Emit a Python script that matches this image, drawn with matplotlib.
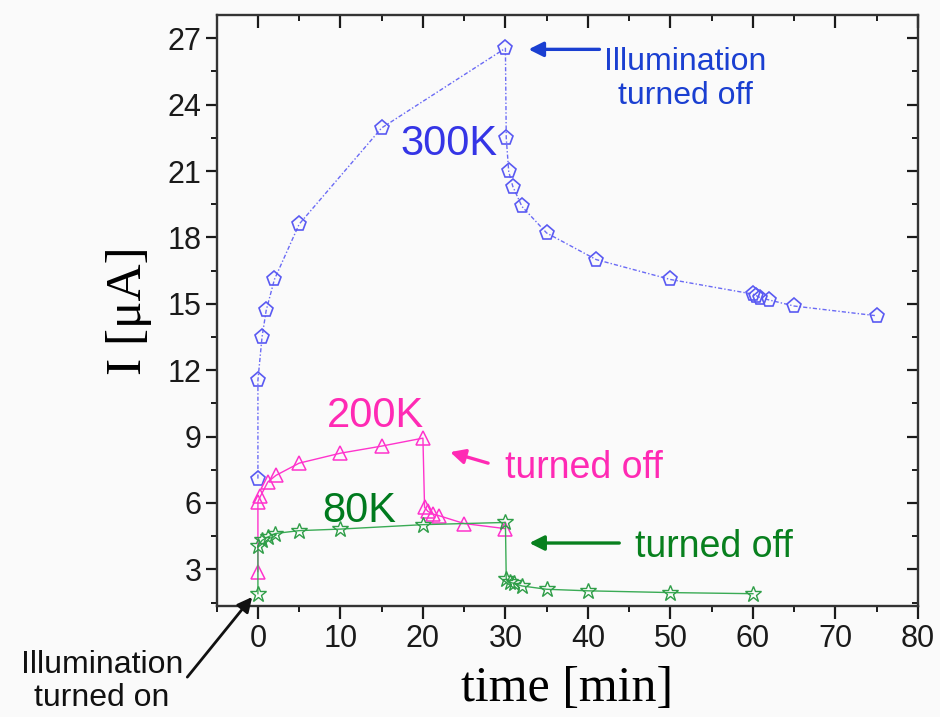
import matplotlib
matplotlib.use('Agg')
import matplotlib.pyplot as plt
from matplotlib.ticker import MultipleLocator

# 300 K
t300 = [0, 0, 0.5, 1, 2, 5, 15, 30, 30.1, 30.4, 30.9, 32, 35, 41, 50, 60, 60.4, 60.9, 62, 65, 75]
i300 = [7.1, 11.55, 13.5, 14.7, 16.1, 18.6, 22.95, 26.55, 22.5, 20.98, 20.3, 19.4, 18.2,
        17.0, 16.1, 15.44, 15.37, 15.28, 15.17, 14.9, 14.46]

# 200 K
t200 = [0, 0, 0.3, 1.2, 2.2, 5, 10, 15, 20, 20.2, 20.6, 21.2, 22, 25, 30]
i200 = [2.9, 6.05, 6.3, 6.95, 7.25, 7.8, 8.25, 8.57, 8.93, 5.8, 5.62, 5.5, 5.42, 5.07, 4.84]

# 80 K
t80 = [0, 0, 0.5, 1.2, 2.1, 5, 10, 20, 30, 30.1, 30.5, 31, 32, 35, 40, 50, 60]
i80 = [1.9, 4.05, 4.31, 4.46, 4.62, 4.75, 4.82, 5.02, 5.12, 2.58, 2.42, 2.37, 2.25, 2.1,
       2.03, 1.95, 1.9]

xticks = [0, 10, 20, 30, 40, 50, 60, 70, 80]
yticks = [3, 6, 9, 12, 15, 18, 21, 24, 27]

sans = 'Liberation Sans'
serif = 'Liberation Serif'

fig = plt.figure(figsize=(9.4, 7.17), dpi=100, facecolor='#fafafa')
ax = fig.add_axes([0.2305, 0.155, 0.746, 0.824])
ax.set_facecolor('#fafafa')

ax.plot(t300, i300, color='#6a6af5', lw=1.0, ls=(0, (3, 1.5, 1, 1.5)),
        marker='p', ms=11, mfc='none', mec='#5a5af2', mew=1.2, zorder=3)
ax.plot(t200, i200, color='#ff33cc', lw=1.0, ls='-',
        marker='^', ms=10, mfc='none', mec='#ff33cc', mew=1.1, zorder=4)
ax.plot(t80, i80, color='#3aab55', lw=1.0, ls='-',
        marker='*', ms=12, mfc='none', mec='#2f9e48', mew=1.0, zorder=5)

ax.set_xlim(-5, 80)
ax.set_ylim(1.35, 28.05)
ax.set_xticks(xticks)
ax.set_yticks(yticks)
ax.xaxis.set_minor_locator(MultipleLocator(5))
ax.yaxis.set_minor_locator(MultipleLocator(1.5))

for s in ax.spines.values():
    s.set_linewidth(1.7)
    s.set_color('#333333')

ax.tick_params(axis='both', which='major', direction='out', length=8, width=1.6,
               labelsize=22, pad=3, colors='#1a1a1a')
ax.tick_params(axis='both', which='minor', direction='out', length=4.5, width=1.4,
               colors='#1a1a1a')
ax.tick_params(axis='x', which='major', length=9, pad=4)
ax.tick_params(top=True, right=True, which='both')

# inward ticks on top and right
for tk in ax.xaxis.get_major_ticks() + ax.xaxis.get_minor_ticks():
    tk.tick2line.set_marker(3)
for tk in ax.yaxis.get_major_ticks() + ax.yaxis.get_minor_ticks():
    tk.tick2line.set_marker(0)
for lab in ax.get_xticklabels() + ax.get_yticklabels():
    lab.set_family(sans)

ax.set_xlabel('time [min]', family=serif, fontsize=36, va='center')
ax.xaxis.set_label_coords(0.5, -0.140)
ax.set_ylabel('I [μA]', family=serif, fontsize=37, va='center')
ax.yaxis.set_label_coords(-0.126, 0.5)

ax.text(23.15, 22.23, '300K', color='#3535e6', fontsize=30, family=sans,
        ha='center', va='center')
ax.text(14.2, 9.92, '200K', color='#ff2ab4', fontsize=30, family=sans,
        ha='center', va='center')
ax.text(12.3, 5.62, '80K', color='#007a1e', fontsize=30, family=sans,
        ha='center', va='center')

ax.text(51.8, 25.17, 'Illumination\nturned off', color='#1a3fd1', fontsize=23,
        family=sans, ha='center', va='center', linespacing=1.15)
ax.text(39.5, 7.57, 'turned off', color='#ff2ab4', fontsize=27, family=sans,
        ha='center', va='center')
ax.text(55.3, 4.0, 'turned off', color='#08801e', fontsize=27, family=sans,
        ha='center', va='center')
ax.text(-18.9, -2.07, 'Illumination\nturned on', color='#111111', fontsize=23,
        family=sans, ha='center', va='center', linespacing=1.15, clip_on=False)

arrow = dict(arrowstyle='-|>', mutation_scale=22, lw=2.4, shrinkA=0, shrinkB=0)
ax.annotate('', xy=(32.8, 26.5), xytext=(41.4, 26.5),
            arrowprops=dict(arrow, color='#1a3fd1'))
ax.annotate('', xy=(23.3, 8.3), xytext=(27.9, 7.8),
            arrowprops=dict(arrow, color='#ff2ab4'))
ax.annotate('', xy=(32.9, 4.19), xytext=(43.8, 4.19),
            arrowprops=dict(arrow, color='#08801e'))
ax.annotate('', xy=(-0.7, 1.75), xytext=(-8.56, -1.87), annotation_clip=False,
            arrowprops=dict(arrow, color='#111111', lw=2.0))

fig.savefig('out.png', dpi=100, facecolor=fig.get_facecolor())
